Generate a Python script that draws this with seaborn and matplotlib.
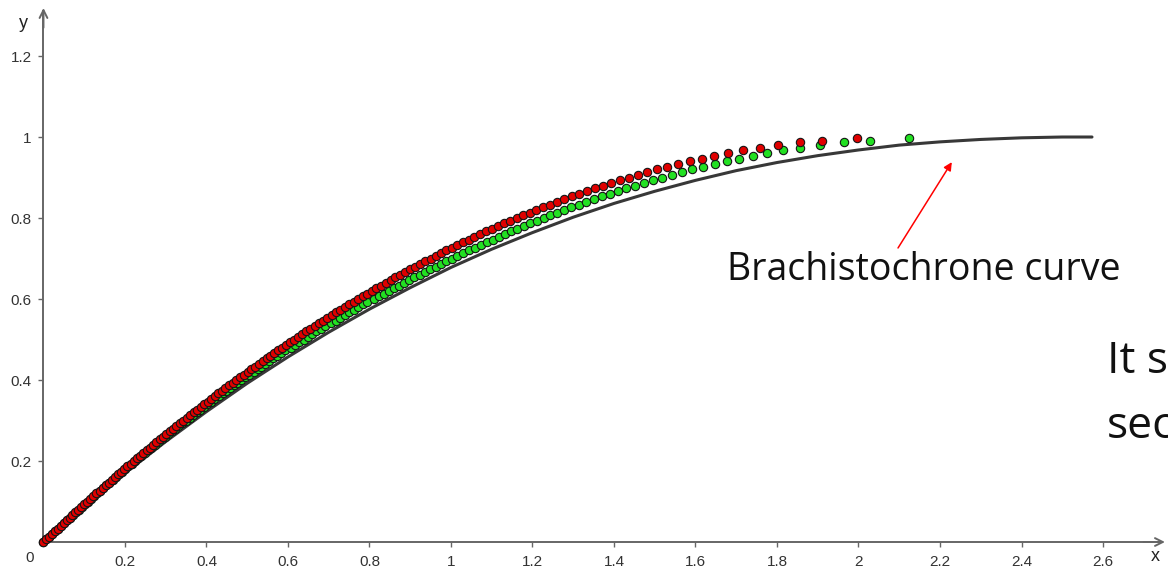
import matplotlib
matplotlib.use('Agg')
import matplotlib.pyplot as plt
import seaborn as sns

# brachistochrone reference curve
curve_x = [0, 0.1, 0.2, 0.3, 0.4, 0.5, 0.6, 0.7, 0.8, 0.9, 1.0, 1.1, 1.2, 1.3,
           1.4, 1.5, 1.6, 1.7, 1.8, 1.9, 2.0, 2.1, 2.2, 2.3, 2.4, 2.5, 2.573]
curve_y = [0, 0.087, 0.170, 0.248, 0.322, 0.392, 0.457, 0.518, 0.575, 0.628, 0.678,
           0.723, 0.764, 0.802, 0.836, 0.866, 0.893, 0.917, 0.937, 0.954, 0.968,
           0.980, 0.988, 0.994, 0.998, 1.0, 1.0]

# height levels shared by both point series
dot_y = [
    0, 0.0067, 0.0133, 0.02, 0.0267, 0.0333, 0.04, 0.0467, 0.0533,
    0.06, 0.0667, 0.0733, 0.08, 0.0867, 0.0933, 0.1, 0.1067, 0.1133,
    0.12, 0.1267, 0.1333, 0.14, 0.1467, 0.1533, 0.16, 0.1667, 0.1733,
    0.18, 0.1867, 0.1933, 0.2, 0.2067, 0.2133, 0.22, 0.2267, 0.2333,
    0.24, 0.2467, 0.2533, 0.26, 0.2667, 0.2733, 0.28, 0.2867, 0.2933,
    0.3, 0.3067, 0.3133, 0.32, 0.3267, 0.3333, 0.34, 0.3467, 0.3533,
    0.36, 0.3667, 0.3733, 0.38, 0.3867, 0.3933, 0.4, 0.4067, 0.4133,
    0.42, 0.4267, 0.4333, 0.44, 0.4467, 0.4533, 0.46, 0.4667, 0.4733,
    0.48, 0.4867, 0.4933, 0.5, 0.5067, 0.5133, 0.52, 0.5267, 0.5333,
    0.54, 0.5467, 0.5533, 0.56, 0.5667, 0.5733, 0.58, 0.5867, 0.5933,
    0.6, 0.6067, 0.6133, 0.62, 0.6267, 0.6333, 0.64, 0.6467, 0.6533,
    0.66, 0.6667, 0.6733, 0.68, 0.6867, 0.6933, 0.7, 0.7067, 0.7133,
    0.72, 0.7267, 0.7333, 0.74, 0.7467, 0.7533, 0.76, 0.7667, 0.7733,
    0.78, 0.7867, 0.7933, 0.8, 0.8067, 0.8133, 0.82, 0.8267, 0.8333,
    0.84, 0.8467, 0.8533, 0.86, 0.8667, 0.8733, 0.88, 0.8867, 0.8933,
    0.9, 0.9067, 0.9133, 0.92, 0.9267, 0.9333, 0.94, 0.9467, 0.9533,
    0.96, 0.9667, 0.9733, 0.98, 0.9867]

red_x = [
    0, 0.0070, 0.0140, 0.0211, 0.0282, 0.0353, 0.0424, 0.0496, 0.0568,
    0.0640, 0.0712, 0.0785, 0.0857, 0.0931, 0.1004, 0.1078, 0.1152, 0.1226,
    0.1300, 0.1375, 0.1450, 0.1525, 0.1601, 0.1677, 0.1753, 0.1830, 0.1907,
    0.1984, 0.2061, 0.2139, 0.2217, 0.2296, 0.2374, 0.2453, 0.2533, 0.2612,
    0.2693, 0.2773, 0.2854, 0.2935, 0.3017, 0.3099, 0.3181, 0.3264, 0.3347,
    0.3430, 0.3514, 0.3598, 0.3683, 0.3768, 0.3854, 0.3940, 0.4026, 0.4113,
    0.4200, 0.4288, 0.4376, 0.4465, 0.4554, 0.4643, 0.4733, 0.4824, 0.4915,
    0.5007, 0.5099, 0.5192, 0.5285, 0.5379, 0.5473, 0.5568, 0.5664, 0.5760,
    0.5857, 0.5954, 0.6052, 0.6151, 0.6250, 0.6350, 0.6451, 0.6552, 0.6654,
    0.6757, 0.6861, 0.6965, 0.7070, 0.7176, 0.7283, 0.7391, 0.7499, 0.7608,
    0.7718, 0.7830, 0.7942, 0.8055, 0.8169, 0.8284, 0.8400, 0.8517, 0.8636,
    0.8755, 0.8876, 0.8997, 0.9121, 0.9245, 0.9371, 0.9498, 0.9626, 0.9756,
    0.9888, 1.0021, 1.0156, 1.0292, 1.0430, 1.0570, 1.0712, 1.0856, 1.1002,
    1.1150, 1.1301, 1.1453, 1.1609, 1.1766, 1.1927, 1.2091, 1.2257, 1.2427,
    1.2600, 1.2777, 1.2958, 1.3142, 1.3332, 1.3526, 1.3725, 1.3930, 1.4141,
    1.4359, 1.4584, 1.4818, 1.5060, 1.5313, 1.5578, 1.5856, 1.6150, 1.6464,
    1.6800, 1.7166, 1.7571, 1.8030, 1.8575]
red_tail_x = [1.910, 1.997]
red_tail_y = [0.991, 0.997]

green_x = [
    0, 0.0071, 0.0141, 0.0213, 0.0285, 0.0357, 0.0428, 0.0501, 0.0574,
    0.0646, 0.0719, 0.0793, 0.0866, 0.0940, 0.1014, 0.1089, 0.1164, 0.1238,
    0.1313, 0.1389, 0.1465, 0.1540, 0.1617, 0.1694, 0.1771, 0.1848, 0.1926,
    0.2008, 0.2086, 0.2165, 0.2244, 0.2324, 0.2402, 0.2482, 0.2563, 0.2643,
    0.2733, 0.2815, 0.2897, 0.2979, 0.3062, 0.3145, 0.3229, 0.3313, 0.3397,
    0.3499, 0.3584, 0.3670, 0.3757, 0.3843, 0.3931, 0.4019, 0.4107, 0.4195,
    0.4305, 0.4395, 0.4485, 0.4577, 0.4668, 0.4759, 0.4851, 0.4945, 0.5038,
    0.5157, 0.5252, 0.5348, 0.5444, 0.5540, 0.5637, 0.5735, 0.5834, 0.5933,
    0.6080, 0.6180, 0.6282, 0.6385, 0.6488, 0.6591, 0.6696, 0.6801, 0.6907,
    0.7061, 0.7170, 0.7278, 0.7388, 0.7499, 0.7611, 0.7724, 0.7836, 0.7950,
    0.8119, 0.8237, 0.8355, 0.8474, 0.8594, 0.8715, 0.8837, 0.8960, 0.9085,
    0.9237, 0.9364, 0.9492, 0.9623, 0.9753, 0.9886, 1.0020, 1.0155, 1.0293,
    1.0453, 1.0594, 1.0736, 1.0880, 1.1026, 1.1174, 1.1324, 1.1476, 1.1631,
    1.1787, 1.1946, 1.2108, 1.2272, 1.2439, 1.2608, 1.2781, 1.2957, 1.3137,
    1.3320, 1.3507, 1.3698, 1.3893, 1.4094, 1.4299, 1.4510, 1.4726, 1.4949,
    1.5180, 1.5418, 1.5665, 1.5921, 1.6188, 1.6468, 1.6762, 1.7073, 1.7404,
    1.7760, 1.8147, 1.8575, 1.9060, 1.9637]
green_tail_x = [2.027, 2.125]
green_tail_y = [0.990, 0.997]

x_ticks = [0.2, 0.4, 0.6, 0.8, 1.0, 1.2, 1.4, 1.6, 1.8, 2.0, 2.2, 2.4, 2.6]
x_tick_labels = ['0.2', '0.4', '0.6', '0.8', '1', '1.2', '1.4', '1.6', '1.8', '2', '2.2', '2.4', '2.6']
y_ticks = [0.2, 0.4, 0.6, 0.8, 1.0, 1.2]
y_tick_labels = ['0.2', '0.4', '0.6', '0.8', '1', '1.2']

sns.set_theme(style='white')
plt.rcParams['font.family'] = ['Liberation Sans', 'DejaVu Sans']

fig = plt.figure(figsize=(11.68, 5.67), dpi=100)
ax = fig.add_axes([0, 0, 1, 1])

sns.lineplot(x=curve_x, y=curve_y, sort=False, color='#383838', linewidth=2.2, ax=ax, zorder=2)
sns.scatterplot(x=green_x + green_tail_x, y=dot_y + green_tail_y, color='#22e022',
                edgecolor='#151515', linewidth=0.8, s=36, ax=ax, zorder=3)
sns.scatterplot(x=red_x + red_tail_x, y=dot_y + red_tail_y, color='#e00000',
                edgecolor='#151515', linewidth=0.8, s=36, ax=ax, zorder=4)

ax.set_xlim(-0.1067, 2.7595)
ax.set_ylim(-0.0617, 1.3383)

axis_col = '#666666'
for side in ['top', 'right']:
    ax.spines[side].set_visible(False)
ax.spines['left'].set_position(('data', 0))
ax.spines['bottom'].set_position(('data', 0))
ax.spines['left'].set_bounds(0, 1.31)
ax.spines['bottom'].set_bounds(0, 2.745)
for side in ['left', 'bottom']:
    ax.spines[side].set_color(axis_col)
    ax.spines[side].set_linewidth(1.4)

ax.set_xticks(x_ticks, x_tick_labels)
ax.set_yticks(y_ticks, y_tick_labels)
ax.tick_params(axis='both', bottom=True, left=True, direction='out', length=3.5,
               width=1, color=axis_col, labelcolor='#333333', labelsize=11)
ax.tick_params(axis='x', pad=6)
ax.tick_params(axis='y', pad=5)

# arrow heads at the ends of the axes
arrow = dict(arrowstyle='->', color=axis_col, lw=1.4, mutation_scale=14, shrinkA=0, shrinkB=0)
ax.annotate('', xy=(2.752, 0), xytext=(2.70, 0), arrowprops=arrow)
ax.annotate('', xy=(0, 1.3185), xytext=(0, 1.27), arrowprops=arrow)

ax.text(-0.033, -0.039, '0', ha='center', va='center', fontsize=11, color='#333333')
ax.text(2.728, -0.035, 'x', ha='center', va='center', fontsize=13, color='#222222')
ax.text(-0.050, 1.280, 'y', ha='center', va='center', fontsize=13, color='#222222')

# label with red arrow
ax.annotate('', xy=(2.229, 0.938), xytext=(2.097, 0.726),
            arrowprops=dict(arrowstyle='-|>', color='#ff0000', lw=1.1, mutation_scale=12,
                            shrinkA=0, shrinkB=0))
ax.text(1.677, 0.647, 'Brachistochrone curve', family=['Open Sans', 'DejaVu Sans'],
        fontsize=27, color='#111111', va='baseline', ha='left')

# text running off the right edge, as in the original slide
ax.text(2.610, 0.417, 'It s', family=['Open Sans', 'DejaVu Sans'],
        fontsize=32, color='#111111', va='baseline', ha='left')
ax.text(2.610, 0.257, 'sec', family=['Open Sans', 'DejaVu Sans'],
        fontsize=32, color='#111111', va='baseline', ha='left')

fig.savefig('out.png', dpi=100)
